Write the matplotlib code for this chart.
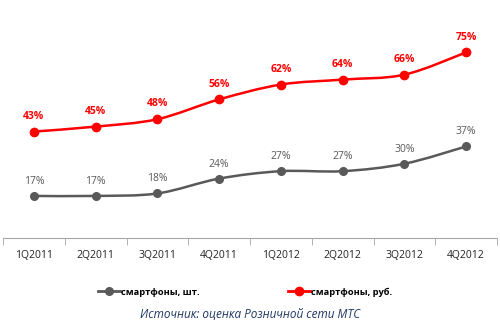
import matplotlib
matplotlib.use("Agg")
import matplotlib.pyplot as plt
from matplotlib.lines import Line2D
from matplotlib.path import Path
from matplotlib.patches import PathPatch

categories = ["1Q2011", "2Q2011", "3Q2011", "4Q2011", "1Q2012", "2Q2012", "3Q2012", "4Q2012"]
units = [17, 17, 18, 24, 27, 27, 30, 37]
rubles = [43, 45, 48, 56, 62, 64, 66, 75]

plt.rcParams['font.family'] = ['Open Sans', 'DejaVu Sans']

fig = plt.figure(figsize=(5.0, 3.29), dpi=100)
ax = fig.add_axes([3/500, 91/329, 494/500, 198/329])

x = list(range(len(categories)))
gray = "#595959"
red = "#FF0000"


def smooth_path(xs, ys, t=1/6):
    verts = [(xs[0], ys[0])]
    codes = [Path.MOVETO]
    n = len(xs)
    for i in range(n - 1):
        x0, y0 = (xs[i - 1], ys[i - 1]) if i > 0 else (xs[i], ys[i])
        x1, y1 = xs[i], ys[i]
        x2, y2 = xs[i + 1], ys[i + 1]
        x3, y3 = (xs[i + 2], ys[i + 2]) if i + 2 < n else (x2, y2)
        c1 = (x1 + (x2 - x0) * t, y1 + (y2 - y0) * t)
        c2 = (x2 - (x3 - x1) * t, y2 - (y3 - y1) * t)
        verts += [c1, c2, (x2, y2)]
        codes += [Path.CURVE4] * 3
    return Path(verts, codes)


for ys, col, ms in [(units, gray, 5.5), (rubles, red, 6)]:
    ax.add_patch(PathPatch(smooth_path(x, ys), fc="none", ec=col, lw=1.8, zorder=2))
    ax.plot(x, ys, ls="none", color=col, marker="o", ms=ms, zorder=3)

for xi, v in zip(x, units):
    ax.annotate(f"{v}%", (xi, v), xytext=(0, 6.5), textcoords="offset points",
                ha="center", va="bottom", fontsize=7.5, color=gray)
for xi, v in zip(x, rubles):
    ax.annotate(f"{v}%", (xi, v), xytext=(0, 7), textcoords="offset points",
                ha="center", va="bottom", fontsize=7.5, color=red, fontweight="bold")

ax.set_xlim(-0.5, len(categories) - 0.5)
ax.set_ylim(0, 80)
for s in ["top", "right", "left"]:
    ax.spines[s].set_visible(False)
ax.spines["bottom"].set_color("#A6A6A6")
ax.set_yticks([])
ax.set_xticks(x)
ax.set_xticklabels(categories, fontsize=7.5, color="#222222")
ax.tick_params(axis="x", length=0, pad=9)
ax.set_xticks([i + 0.5 for i in range(-1, len(categories))], minor=True)
ax.tick_params(axis="x", which="minor", length=5, color="#A6A6A6", direction="out")

handles = [Line2D([], [], color=gray, lw=2, marker="o", ms=5.5),
           Line2D([], [], color=red, lw=2, marker="o", ms=6)]
fig.legend(handles, ["смартфоны, шт.", "смартфоны, руб."], loc="center",
           bbox_to_anchor=(0.49, 1 - 292/329), ncol=2, frameon=False,
           prop={"size": 6.7, "weight": "bold"}, columnspacing=9.5, handlelength=2.4,
           handletextpad=0.1)
fig.text(0.5, 1 - 314/329, "Источник: оценка Розничной сети МТС", ha="center", va="center",
         fontsize=8.5, style="italic", color="#1F3864")

fig.savefig("out.png", dpi=100)
